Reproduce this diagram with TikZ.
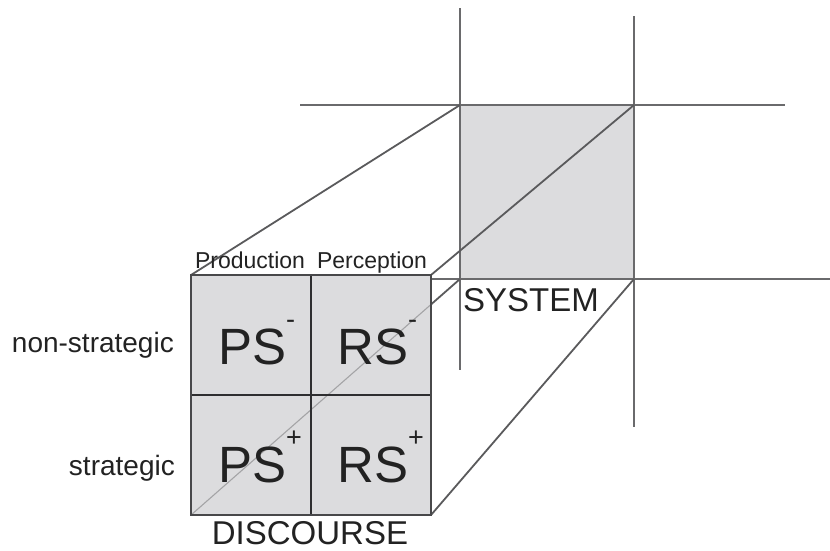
\documentclass[tikz,border=0pt]{standalone}
\usepackage{fontspec}
\setmainfont{Liberation Sans}
\newcommand\supmark[1]{\raisebox{36pt}{\fontsize{27}{27}\selectfont #1}}
\definecolor{gridc}{HTML}{6A6A6C}
\definecolor{connc}{HTML}{5A5A5C}
\definecolor{sqfill}{HTML}{DCDCDE}
\definecolor{sqedge}{HTML}{48484A}
\definecolor{inedge}{HTML}{2E2E30}
\definecolor{faint}{HTML}{A4A4A6}
\definecolor{txt}{HTML}{222222}
\begin{document}
\begin{tikzpicture}[x=1pt,y=-1pt,
  gridline/.style={draw=gridc, line width=2.2pt},
  conn/.style={draw=connc, line width=1.8pt},
  box/.style={inner sep=0pt, outer sep=0pt},
  celltext/.style={text=txt, inner sep=0pt, anchor=base west, font=\fontsize{51}{56}\selectfont},
  headtext/.style={text=txt, inner sep=0pt, anchor=base, font=\fontsize{23}{26}\selectfont},
  sidetext/.style={text=txt, inner sep=0pt, anchor=base east, font=\fontsize{28}{32}\selectfont},
  titletext/.style={text=txt, inner sep=0pt, font=\fontsize{33}{36}\selectfont}]
\useasboundingbox (0,0) rectangle (830,550);
% back square (system)
\node[box, fill=sqfill, minimum width=174pt, minimum height=174pt] (back) at (547,192) {};
% grid lines
\coordinate (v1t) at (460,8);   \coordinate (v1b) at (460,370);
\coordinate (v2t) at (634,16);  \coordinate (v2b) at (634,427);
\coordinate (h1l) at (300,105); \coordinate (h1r) at (785,105);
\coordinate (h2l) at (431,279); \coordinate (h2r) at (830,279);
\draw[gridline] (v1t) -- (v1b);
\draw[gridline] (v2t) -- (v2b);
\draw[gridline] (h1l) -- (h1r);
\draw[gridline] (h2l) -- (h2r);
% front square placeholder
\node[box, minimum width=240pt, minimum height=240pt] (front) at (311,395) {};
% connectors
\draw[conn] (front.north west) -- (back.north west);
\draw[conn] (front.north east) -- (back.north east);
\draw[conn] (front.south west) -- (back.south west);
\draw[conn] (front.south east) -- (back.south east);
% front square fill
\fill[sqfill] (front.north west) rectangle (front.south east);
\begin{scope}
  \clip (front.north west) rectangle (front.south east);
  \draw[faint, line width=1.1pt] (front.south west) -- (back.south west);
\end{scope}
\draw[inedge, line width=1.5pt] (front.north) -- (front.south);
\draw[inedge, line width=1.5pt] (front.west) -- (front.east);
\draw[sqedge, line width=2.2pt] (front.north west) rectangle (front.south east);
% cell labels
\node[celltext] (ps1) at (218,364) {PS\supmark{-}};
\node[celltext] (rs1) at (337,364) {RS\supmark{-}};
\node[celltext] (ps2) at (218,482) {PS\supmark{+}};
\node[celltext] (rs2) at (337,482) {RS\supmark{+}};
% headings
\node[headtext] (prod) at (250,268) {Production};
\node[headtext] (perc) at (372,268) {Perception};
\node[sidetext] (nonstr) at (174,352) {non-strategic};
\node[sidetext] (str) at (175,475) {strategic};
\node[titletext, anchor=base west] (sys) at (463,311) {SYSTEM};
\node[titletext, anchor=base] (disc) at (310,544) {DISCOURSE};
\end{tikzpicture}
\end{document}
